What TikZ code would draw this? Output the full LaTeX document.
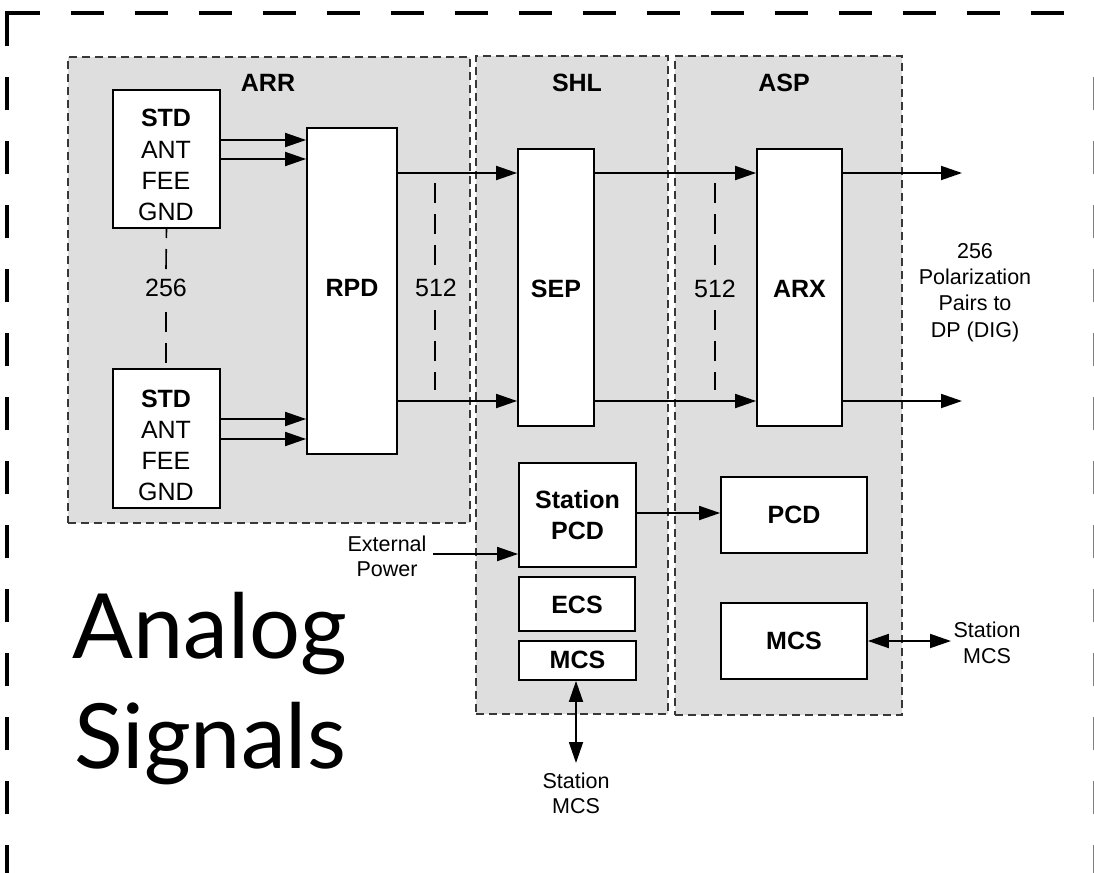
\documentclass[tikz,border=0pt]{standalone}
\usepackage{fontspec}
\setmainfont{Liberation Sans}
\newfontfamily\gillfont{Lato}
\usetikzlibrary{arrows.meta}
\definecolor{regiongray}{gray}{0.87}
\definecolor{regionline}{gray}{0.22}
\tikzset{
  region/.style={draw=regionline, fill=regiongray, line width=1.4pt, dash pattern=on 8pt off 5pt, inner sep=0pt},
  blk/.style={draw=black, fill=white, line width=1.8pt, inner sep=0pt},
  big/.style={font=\fontsize{25}{30}\selectfont\bfseries, inner sep=0pt, anchor=base},
  plain/.style={font=\fontsize{25}{30}\selectfont, inner sep=0pt, anchor=base},
  small/.style={font=\fontsize{21.5}{26}\selectfont, inner sep=0pt, anchor=base},
  huge/.style={font=\fontsize{90}{110}\selectfont\gillfont, inner sep=0pt, anchor=base},
  arr/.style={line width=1.8pt, -{Triangle[length=21pt,width=14pt]}},
  dbl/.style={line width=1.8pt, {Triangle[length=21pt,width=14pt]}-{Triangle[length=21pt,width=14pt]}},
  countline/.style={line width=1.6pt, dash pattern=on 20pt off 11pt},
  outer/.style={line width=4pt, line cap=butt, dash pattern=on 33pt off 31pt}
}
\begin{document}
\begin{tikzpicture}[x=1pt,y=-1pt]
\useasboundingbox (0,0) rectangle (1094,872);
% outer frame
\draw[line width=4pt, line join=miter] (7,46) -- (7,13) -- (40,13);
\draw[outer] (71,13) -- (1100,13);
\draw[outer] (7,77) -- (7,880);
\draw[outer, draw=gray] (1095,77) -- (1095,880);

% regions
\node[region, minimum width=402pt, minimum height=466pt] (arr) at (269,290) {};
\node[region, minimum width=192pt, minimum height=658pt] (shl) at (572,385) {};
\node[region, minimum width=227pt, minimum height=659pt] (asp) at (788.5,385.5) {};
\node[big] (arrlbl) at (268,92) {ARR};
\node[big] (shllbl) at (577,92) {SHL};
\node[big] (asplbl) at (784,92) {ASP};

% blocks
\node[blk, minimum width=107pt, minimum height=138pt] (std1) at (166.5,159) {};
\node[blk, minimum width=107pt, minimum height=139pt] (std2) at (166.5,438.5) {};
\node[blk, minimum width=90pt, minimum height=326pt] (rpd) at (352,291) {};
\node[blk, minimum width=76pt, minimum height=277pt] (sep) at (556,287.5) {};
\node[blk, minimum width=85pt, minimum height=277pt] (arx) at (799.5,287.5) {};
\node[blk, minimum width=117pt, minimum height=104pt] (spcd) at (577.5,515) {};
\node[blk, minimum width=116pt, minimum height=54pt] (ecs) at (577,604) {};
\node[blk, minimum width=117pt, minimum height=39pt] (mcs1) at (577.5,660.5) {};
\node[blk, minimum width=146pt, minimum height=76pt] (pcd) at (794,515) {};
\node[blk, minimum width=146pt, minimum height=76pt] (mcs2) at (794,641) {};

% block texts
\node[big] (std1a) at (166,127) {STD};
\node[plain] (std1b) at (166,158) {ANT};
\node[plain] (std1c) at (166,189) {FEE};
\node[plain] (std1d) at (166,220) {GND};
\node[big] (std2a) at (166,407) {STD};
\node[plain] (std2b) at (166,438) {ANT};
\node[plain] (std2c) at (166,469) {FEE};
\node[plain] (std2d) at (166,500) {GND};
\node[big] (rpdt) at (352,296) {RPD};
\node[big] (sept) at (556,297) {SEP};
\node[big] (arxt) at (799.5,297) {ARX};
\node[big] (spcda) at (577.5,508) {Station};
\node[big] (spcdb) at (577.5,539) {PCD};
\node[big] (ecst) at (577,613) {ECS};
\node[big] (mcs1t) at (577.5,668) {MCS};
\node[big] (pcdt) at (794,523) {PCD};
\node[big] (mcs2t) at (794,649) {MCS};

% count labels
\node[plain] (n256) at (166,296) {256};
\node[plain] (n512a) at (436,296) {512};
\node[plain] (n512b) at (715,297) {512};
\draw[countline] (166,269) -- (std1.south |- 0,228);
\draw[countline] (166,312) -- (166,363);
\draw[countline] (435,183) -- (435,266);
\draw[countline] (435,310) -- (435,390);
\draw[countline] (715,183) -- (715,266);
\draw[countline] (715,310) -- (715,390);

% free ends
\coordinate (out1) at (962,173);
\coordinate (out2) at (962,401);
\coordinate (extp) at (433,554);
\coordinate (smcs1) at (576,763);
\coordinate (smcs2) at (951,641);

% arrows
\draw[arr] (std1.east |- 0,140) -- (rpd.west |- 0,140);
\draw[arr] (std1.east |- 0,159) -- (rpd.west |- 0,159);
\draw[arr] (std2.east |- 0,419) -- (rpd.west |- 0,419);
\draw[arr] (std2.east |- 0,439) -- (rpd.west |- 0,439);
\draw[arr] (rpd.east |- 0,173) -- (sep.west |- 0,173);
\draw[arr] (rpd.east |- 0,401) -- (sep.west |- 0,401);
\draw[arr] (sep.east |- 0,173) -- (arx.west |- 0,173);
\draw[arr] (sep.east |- 0,401) -- (arx.west |- 0,401);
\draw[arr] (arx.east |- out1) -- (out1);
\draw[arr] (arx.east |- out2) -- (out2);
\draw[arr] (extp) -- (spcd.west |- extp);
\draw[arr] (spcd.east |- 0,513) -- (pcd.west |- 0,513);
\draw[dbl] (mcs1.south -| smcs1) -- (smcs1);
\draw[dbl] (mcs2.east |- smcs2) -- (smcs2);

% side labels
\node[small] (dp1) at (975,258) {256};
\node[small] (dp2) at (975,284.5) {Polarization};
\node[small] (dp3) at (975,310.5) {Pairs to};
\node[small] (dp4) at (975,337) {DP (DIG)};
\node[small] (ext1) at (387,551) {External};
\node[small] (ext2) at (387,576) {Power};
\node[small] (sm1a) at (576,788) {Station};
\node[small] (sm1b) at (576,813) {MCS};
\node[small] (sm2a) at (987,637) {Station};
\node[small] (sm2b) at (987,663) {MCS};

% title
\node[huge] (t1) at (210,658) {Analog};
\node[huge] (t2) at (210,768) {Signals};
\end{tikzpicture}
\end{document}
